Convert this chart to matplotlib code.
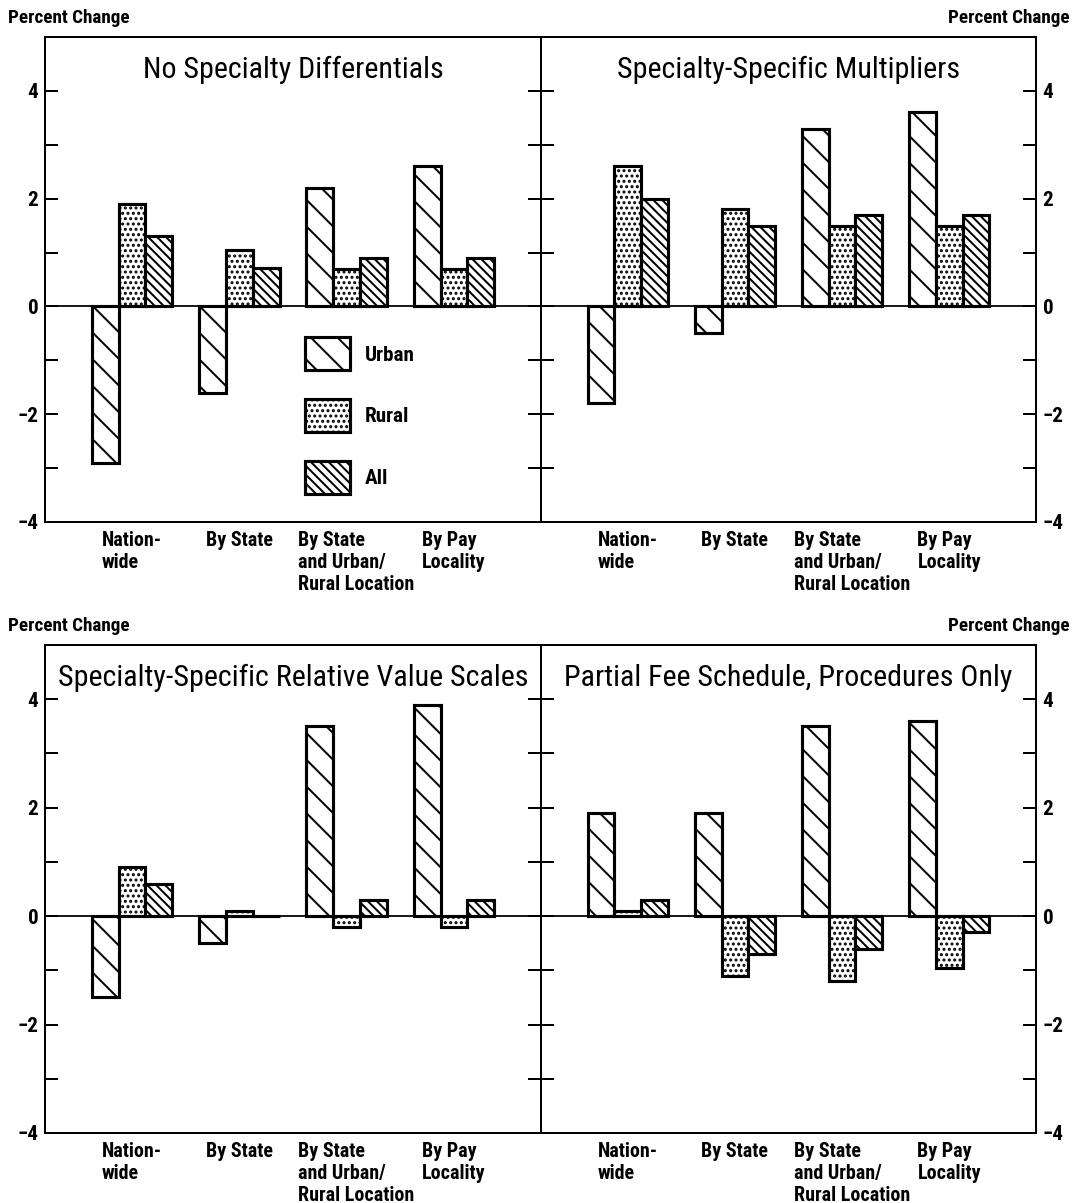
import matplotlib
matplotlib.use("Agg")
import matplotlib.pyplot as plt
import matplotlib.font_manager as fm
import numpy as np
from matplotlib.patches import Patch
from matplotlib.ticker import FixedLocator

# narrow sans, falls back to plain DejaVu
names = {f.name for f in fm.fontManager.ttflist}
if 'Roboto Condensed' in names:
    plt.rcParams['font.family'] = ['Roboto Condensed', 'DejaVu Sans']
elif 'Liberation Sans Narrow' in names:
    plt.rcParams['font.family'] = ['Liberation Sans Narrow', 'DejaVu Sans']
else:
    plt.rcParams['font.family'] = ['DejaVu Sans']
    plt.rcParams['font.stretch'] = 'condensed'
plt.rcParams['hatch.linewidth'] = 0.9
plt.rcParams['hatch.color'] = 'black'

categories = ["Nation-\nwide", "By State", "By State\nand Urban/\nRural Location", "By Pay\nLocality"]
series = ["Urban", "Rural", "All"]

titles = ["No Specialty Differentials",
          "Specialty-Specific Multipliers",
          "Specialty-Specific Relative Value Scales",
          "Partial Fee Schedule, Procedures Only"]

# percent change, one list per series, per panel
no_diff_urban = [-2.9, -1.6, 2.2, 2.6]
no_diff_rural = [1.9, 1.05, 0.7, 0.7]
no_diff_all = [1.3, 0.72, 0.9, 0.9]

mult_urban = [-1.8, -0.5, 3.3, 3.6]
mult_rural = [2.6, 1.8, 1.5, 1.5]
mult_all = [2.0, 1.5, 1.7, 1.7]

rvs_urban = [-1.5, -0.5, 3.5, 3.9]
rvs_rural = [0.9, 0.1, -0.2, -0.2]
rvs_all = [0.6, 0.0, 0.3, 0.3]

partial_urban = [1.9, 1.9, 3.5, 3.6]
partial_rural = [0.1, -1.1, -1.2, -0.95]
partial_all = [0.3, -0.7, -0.6, -0.3]

panels = [(no_diff_urban, no_diff_rural, no_diff_all),
          (mult_urban, mult_rural, mult_all),
          (rvs_urban, rvs_rural, rvs_all),
          (partial_urban, partial_rural, partial_all)]

hatches = ['\\\\', '.....', '\\\\\\\\\\\\']

fig = plt.figure(figsize=(1077 / 160, 1203 / 160), dpi=160)

boxes = [[0.0418, 0.5661, 0.4605, 0.4032],
         [0.5023, 0.5661, 0.4596, 0.4032],
         [0.0418, 0.0582, 0.4605, 0.4057],
         [0.5023, 0.0582, 0.4596, 0.4057]]

x = np.arange(len(categories))
w = 0.25
# the long third label sits a little right of its group in the original
label_shift = np.array([0, 0, 0.09, 0])

for i, (box, title, vals) in enumerate(zip(boxes, titles, panels)):
    ax = fig.add_axes(box)
    for j, v in enumerate(vals):
        ax.bar(x + (j - 1) * w, v, w, facecolor='white', edgecolor='black',
               linewidth=1.4, hatch=hatches[j], zorder=3)
    ax.axhline(0, color='black', lw=0.8, zorder=2)
    ax.set_xlim(-0.81, 3.81)
    ax.set_ylim(-4, 5)
    ax.yaxis.set_major_locator(FixedLocator([-4, -2, 0, 2, 4]))
    ax.yaxis.set_minor_locator(FixedLocator([-3, -1, 1, 3]))
    left_side = (i % 2 == 0)
    ax.tick_params(axis='y', which='both', direction='in', length=6, width=0.9,
                   left=True, right=True, labelleft=left_side, labelright=not left_side,
                   labelsize=9.5, pad=3)
    for lab in ax.get_yticklabels():
        lab.set_fontweight('bold')
    ax.set_xticks(x + label_shift)
    ax.set_xticklabels(categories, fontsize=9, fontweight='bold', va='top')
    for lab in ax.get_xticklabels():
        lab.set_multialignment('left')
    ax.tick_params(axis='x', length=0, pad=4)
    for s in ax.spines.values():
        s.set_linewidth(0.9)
    ax.text(0.5, 0.932, title, transform=ax.transAxes, ha='center', va='center', fontsize=13.5)

    if i == 0:
        handles = [Patch(facecolor='white', edgecolor='black', linewidth=1.4, hatch=h) for h in hatches]
        ax.legend(handles, series, loc='upper left', bbox_to_anchor=(0.524, 0.381),
                  frameon=False, prop={'weight': 'bold', 'size': 9.5},
                  handlelength=2.14, handleheight=2.05, labelspacing=1.35,
                  handletextpad=0.7, borderpad=0, borderaxespad=0)

for y in [0.985, 0.4796]:
    fig.text(0.0074, y, "Percent Change", fontsize=8.6, fontweight='bold', ha='left', va='center')
    fig.text(0.9935, y, "Percent Change", fontsize=8.6, fontweight='bold', ha='right', va='center')

fig.savefig("out.png", dpi=160)
